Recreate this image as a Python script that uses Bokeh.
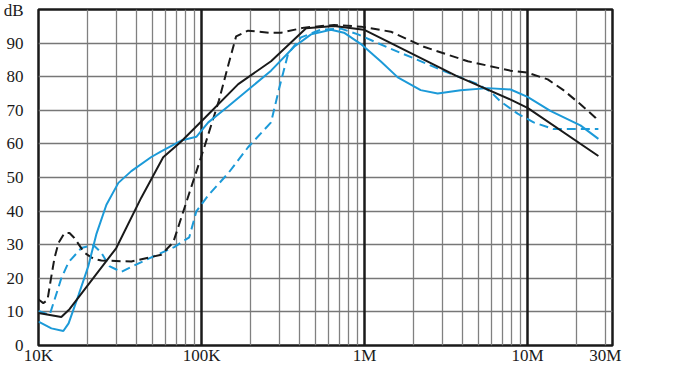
from bokeh.plotting import figure
from bokeh.models import Range1d, FixedTicker, Grid
from bokeh.embed import file_html
from bokeh.resources import INLINE

# ---- data (frequency in Hz, level in dB) ----
black_solid_f = [10000, 13800, 15500, 30000, 42700, 58200, 75100, 105000, 168000, 267000,
                 438000, 650000, 990000, 1260000, 3630000, 7870000, 10000000, 27200000]
black_solid_db = [9.7, 8.5, 10.8, 29.0, 44.0, 56.0, 60.7, 67.8, 77.8, 84.6,
                  94.4, 95.1, 94.0, 91.5, 80.3, 73.2, 70.7, 56.4]

black_dash_f = [10000, 10700, 11350, 11840, 12530, 13260, 14420, 15490, 16600, 19130,
                21720, 24300, 37100, 56600, 67100, 78300, 104000, 128000, 146000, 163000,
                193000, 260000, 308000, 426000, 650000, 951000, 1450000, 2310000, 4300000,
                7870000, 10000000, 13300000, 16600000, 21100000, 26100000, 27200000]
black_dash_db = [13.7, 12.6, 13.5, 19.0, 26.0, 30.5, 33.4, 33.5, 32.0, 27.6,
                 25.8, 25.3, 25.0, 27.0, 30.7, 40.7, 59.0, 73.0, 83.5, 92.0,
                 93.7, 93.1, 93.1, 94.6, 95.4, 94.9, 93.4, 88.9, 84.6,
                 81.8, 81.2, 79.2, 76.0, 71.8, 67.8, 66.6]

blue_solid_f = [10000, 12000, 14200, 15300, 17600, 20200, 22700, 26100, 30900, 37100,
                49200, 56600, 75100, 92900, 110000, 146000, 267000, 370000, 470000, 622000,
                748000, 951000, 1260000, 1600000, 2210000, 2810000, 3890000, 5700000,
                7870000, 10000000, 13800000, 21100000, 27200000]
blue_solid_db = [7.1, 5.1, 4.3, 6.6, 15.0, 23.6, 33.3, 41.9, 48.4, 51.9,
                 56.1, 57.8, 61.0, 62.1, 66.4, 71.2, 81.8, 88.9, 92.6, 94.0,
                 93.1, 89.7, 84.5, 79.8, 76.0, 75.0, 76.0, 76.6,
                 76.2, 74.0, 69.8, 65.5, 61.5]

blue_dash_f = [10000, 11700, 12500, 13800, 15300, 18300, 21700, 24300, 27200, 32200,
               37100, 49200, 68000, 84100, 92900, 110000, 146000, 193000, 267000, 299000,
               340000, 408000, 541000, 716000, 912000, 1450000, 2000000, 3240000, 4940000,
               5940000, 6840000, 8690000, 10900000, 14450000, 27200000]
blue_dash_db = [10.3, 9.1, 13.4, 20.0, 24.8, 29.0, 29.9, 27.6, 23.6, 21.9,
                23.4, 26.2, 29.3, 32.2, 39.9, 44.7, 51.3, 59.0, 66.4, 76.4,
                86.9, 91.7, 94.0, 94.3, 92.6, 88.3, 85.5, 81.2, 77.8,
                75.5, 72.6, 69.0, 66.4, 64.4, 64.4]

x_ticks = [10000, 100000, 1000000, 10000000, 30000000]
x_tick_labels = ["10K", "100K", "1M", "10M", "30M"]
decades = [100000, 1000000, 10000000]
minor_lines = [m * d for d in (10000, 100000, 1000000) for m in range(2, 10)] + [20000000, 30000000]
y_ticks = [0, 10, 20, 30, 40, 50, 60, 70, 80, 90]
y_unit = "dB"
y_unit_pos = 100

BLACK = "#1a1a1a"
BLUE = "#1c9ad8"
FONT = "'Liberation Serif', serif"

W, H = 658, 367
p = figure(width=W, height=H, x_axis_type="log",
           x_range=Range1d(10000, 33200000), y_range=Range1d(0, 100),
           output_backend="svg", toolbar_location=None,
           min_border_left=37, min_border_right=46, min_border_top=9, min_border_bottom=20)

p.background_fill_color = "white"
p.border_fill_color = "white"
p.outline_line_color = BLACK
p.outline_line_width = 2.5

p.xgrid.visible = False
p.ygrid.visible = False

g_minor = Grid(dimension=0, ticker=FixedTicker(ticks=minor_lines),
               grid_line_color="#808080", grid_line_width=1.3)
g_major = Grid(dimension=0, ticker=FixedTicker(ticks=decades),
               grid_line_color=BLACK, grid_line_width=2.5)
g_h = Grid(dimension=1, ticker=FixedTicker(ticks=y_ticks[1:]),
           grid_line_color="#777777", grid_line_width=1.5)
p.add_layout(g_minor)
p.add_layout(g_h)
p.add_layout(g_major)

for ax in (p.xaxis[0], p.yaxis[0]):
    ax.axis_line_color = None
    ax.major_tick_line_color = None
    ax.minor_tick_line_color = None
    ax.major_tick_out = 0
    ax.major_tick_in = 0
    ax.minor_tick_out = 0
    ax.minor_tick_in = 0
    ax.major_label_text_font = FONT
    ax.major_label_text_font_size = "17px"
    ax.major_label_text_color = BLACK

p.xaxis.ticker = FixedTicker(ticks=x_ticks)
p.xaxis.major_label_overrides = {t: l for t, l in zip(x_ticks, x_tick_labels)}
p.xaxis.major_label_standoff = 0
p.yaxis.ticker = FixedTicker(ticks=y_ticks + [y_unit_pos])
p.yaxis.major_label_overrides = {y_unit_pos: y_unit}
p.yaxis.major_label_standoff = 15

p.line(blue_dash_f, blue_dash_db, line_color=BLUE, line_width=2, line_dash="9 5")
p.line(black_dash_f, black_dash_db, line_color=BLACK, line_width=2, line_dash="9 5")
p.line(blue_solid_f, blue_solid_db, line_color=BLUE, line_width=2)
p.line(black_solid_f, black_solid_db, line_color=BLACK, line_width=2)

open("out.html", "w").write(file_html(p, INLINE))
